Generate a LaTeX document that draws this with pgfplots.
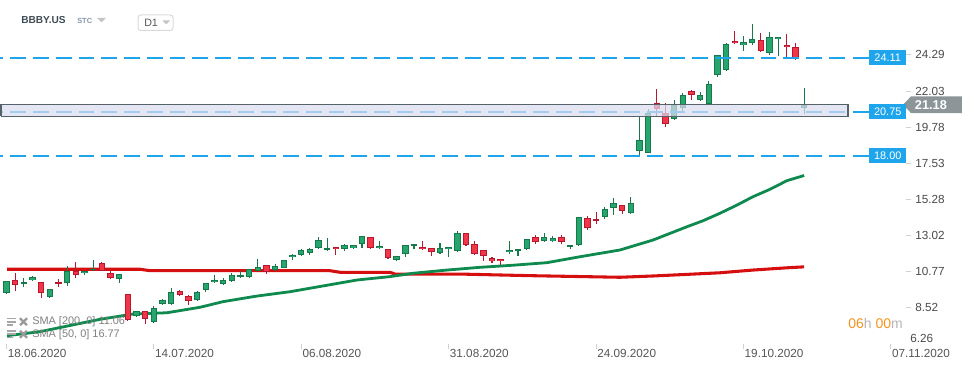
\documentclass[border=0pt]{standalone}
\usepackage{fontspec}
\setmainfont{Liberation Sans}
\usepackage{pgfplots}
\usepackage{pgfplotstable}
\pgfplotsset{compat=1.18}
\definecolor{upfill}{HTML}{26A66E}
\definecolor{upline}{HTML}{17784A}
\definecolor{dnfill}{HTML}{F2364A}
\definecolor{dnline}{HTML}{B8182E}
\definecolor{smagreen}{HTML}{0E8A4E}
\definecolor{smared}{HTML}{D50F0F}
\definecolor{lvlblue}{HTML}{1EA5EC}
\definecolor{bandfill}{HTML}{D9DCF0}
\definecolor{bandline}{HTML}{56616A}
\definecolor{axtext}{HTML}{4A4A4A}
\definecolor{datecol}{HTML}{555555}
\definecolor{tickgray}{HTML}{D0D0D0}
\definecolor{pricegray}{HTML}{8C9598}
\definecolor{clockorange}{HTML}{F7931E}
\definecolor{clockgray}{HTML}{B5B5B5}
\definecolor{legendgray}{HTML}{808080}
\definecolor{headcol}{HTML}{3F4B55}
\definecolor{stccol}{HTML}{8496A8}

\pgfplotstableread{
i o h l c
0 9.43 10.20 9.40 10.17
2 10.01 10.36 9.84 10.13
3 10.24 10.50 10.17 10.43
5 9.22 9.70 9.15 9.68
7 10.10 11.13 9.90 10.82
9 10.67 10.85 10.55 10.82
10 10.88 11.50 10.84 10.96
13 10.30 10.65 10.05 10.61
15 8.01 8.35 7.95 8.30
17 7.64 8.65 7.60 8.49
18 8.74 9.05 8.70 8.99
19 8.74 9.74 8.70 9.53
22 8.99 9.60 8.95 9.53
23 9.61 10.10 9.53 10.05
24 10.11 10.55 10.05 10.24
25 9.99 10.37 9.96 10.24
26 10.17 10.68 10.15 10.55
27 10.43 10.80 10.40 10.55
28 10.43 10.95 10.40 10.92
29 10.84 11.55 10.80 11.05
31 10.86 11.24 10.84 11.11
32 11.02 11.50 11.00 11.48
33 11.67 11.85 11.48 11.80
34 11.80 12.18 11.74 12.11
35 11.92 12.24 11.80 12.17
36 12.23 12.94 12.20 12.73
37 12.11 12.87 12.08 12.23
39 12.17 12.49 12.05 12.42
40 12.23 12.46 12.17 12.42
41 12.48 13.00 12.23 12.98
43 12.23 12.67 12.20 12.36
45 11.48 11.76 11.42 11.73
46 11.86 12.45 11.67 12.42
47 12.36 12.50 12.17 12.48
50 11.92 12.55 11.90 12.23
51 12.17 12.33 11.67 12.30
52 12.05 13.30 12.03 13.17
58 11.98 12.67 11.86 12.11
59 12.05 12.20 11.73 12.17
60 12.17 12.82 12.15 12.80
62 12.67 13.17 12.65 12.92
63 12.67 12.98 12.61 12.86
65 12.30 12.45 12.17 12.42
66 12.42 14.20 12.40 14.17
69 14.17 14.79 14.04 14.66
70 14.73 15.35 14.29 15.04
72 14.42 15.41 14.40 15.04
73 18.32 20.44 18.03 18.98
74 18.19 20.90 18.15 20.65
77 20.31 21.48 20.25 21.15
78 20.96 21.90 20.70 21.77
80 21.46 21.96 21.40 21.77
81 21.21 22.66 21.18 22.46
82 23.02 24.30 22.89 24.27
83 23.33 25.00 23.30 24.95
85 24.89 25.47 24.51 25.08
86 25.01 26.22 24.89 25.26
88 24.39 25.70 24.27 25.39
89 25.26 25.42 24.20 25.39
92 20.98 22.20 20.62 21.18
}\upc

\pgfplotstableread{
i o h l c
1 10.26 10.67 9.59 9.93
4 10.11 10.15 9.12 9.43
6 10.11 10.30 9.80 9.99
8 10.84 11.38 10.40 10.55
11 11.30 11.38 10.80 10.82
12 10.67 10.84 10.34 10.36
14 9.37 9.40 7.70 7.74
16 8.30 8.35 7.51 7.81
20 9.59 9.62 9.25 9.30
21 9.28 9.30 8.68 8.95
30 11.17 11.20 10.61 10.78
38 12.30 12.32 11.80 12.17
42 12.92 12.95 12.20 12.23
44 12.17 12.20 11.55 11.61
48 12.30 12.67 12.15 12.17
49 12.23 12.26 11.73 11.98
53 13.17 13.20 12.40 12.42
54 12.48 12.67 11.80 11.86
55 12.11 12.15 11.42 11.73
56 11.61 11.67 11.30 11.42
57 11.55 11.58 11.17 11.42
61 12.92 13.05 12.48 12.61
64 12.92 13.05 12.48 12.61
67 14.10 14.23 13.35 13.48
68 14.04 14.48 13.73 13.92
71 14.91 14.95 14.35 14.54
75 21.27 22.16 20.50 20.90
76 20.65 21.27 19.81 19.96
79 22.04 22.10 21.46 21.77
84 25.14 25.76 24.95 25.01
87 25.20 25.64 24.48 24.51
90 24.89 25.57 24.14 24.76
91 24.76 25.01 23.96 24.02
}\dnc

\pgfplotstableread{
x y
0.06 6.79
3.86 7.04
10.78 7.81
14.59 8.14
18.51 8.22
22.32 8.56
24.97 8.91
28.89 9.26
32.70 9.53
36.51 9.89
40.43 10.26
44.23 10.47
46.89 10.68
50.81 10.88
54.61 11.05
58.42 11.18
62.34 11.34
66.15 11.71
70.76 12.13
74.57 12.75
78.49 13.58
80.33 13.95
82.30 14.42
84.26 14.93
86.10 15.45
88.06 15.91
90.02 16.45
92 16.77
}\smafifty

\pgfplotstableread{
x y
0.06 10.93
15.4 10.93
16.55 10.84
37.31 10.84
38.47 10.74
44.23 10.74
44.81 10.63
52.31 10.63
60.38 10.53
70.76 10.43
74.57 10.51
78.49 10.61
82.30 10.71
86.10 10.88
90.02 11.02
92 11.08
}\smatwo

\pgfplotstableread{
x y
-0.75 24.11
97.06 24.11
}\lvlA
\pgfplotstableread{
x y
-0.75 20.75
97.06 20.75
}\lvlB
\pgfplotstableread{
x y
-0.75 18.00
97.06 18.00
}\lvlC

\pgfplotsset{
  candle/.style n args={2}{mark=none, draw=none, forget plot,
    error bars/.cd, y dir=both, y explicit, error mark=none,
    error bar style={draw=#1, line width=#2}},
  level/.style={color=lvlblue, draw=lvlblue, mark=none, line width=1.35pt, solid},
}

\begin{document}
\begin{tikzpicture}[x=0.75pt,y=0.75pt]
\useasboundingbox (0,0) rectangle (974,368);
\begin{axis}[
  at={(0pt,17.85pt)}, anchor=south west,
  scale only axis, width=679.5pt, height=258.15pt,
  xmin=-0.75, xmax=103.75, ymin=6.26, ymax=27.705,
  clip=false,
  axis line style={draw=none},
  tick align=outside,
  xtick pos=left, ytick pos=right, yticklabel pos=right,
  xtick={0,17,34,51,68,85,102},
  xticklabels={18.06.2020,14.07.2020,06.08.2020,31.08.2020,24.09.2020,19.10.2020,07.11.2020},
  ytick={8.52,10.77,13.02,15.28,17.53,19.78,22.03,24.29},
  yticklabels={8.52,10.77,13.02,15.28,17.53,19.78,22.03,24.29},
  extra y ticks={6.26}, extra y tick labels={6.26},
  extra y tick style={major tick length=0pt, yticklabel style={yshift=4pt}},
  major tick length=3.75pt,
  tick style={draw=tickgray, line width=0.75pt},
  xticklabel style={anchor=north west, inner sep=0pt, xshift=0.75pt, font=\fontsize{8.8}{10}\selectfont, text=datecol},
  yticklabel style={anchor=west, inner sep=0pt, xshift=3pt, font=\fontsize{8.8}{10}\selectfont, text=axtext},
  /pgf/number format/assume math mode=true,
]
% moving averages
\addplot[draw=smared, line width=2.3pt, line join=round, mark=none] table[x=x,y=y]{\smatwo};
\addplot[draw=smagreen, line width=2.1pt, line join=round, mark=none] table[x=x,y=y]{\smafifty};
% wicks
\addplot[candle={upline}{0.8pt}]
  table[x=i, y expr={(\thisrow{h}+\thisrow{l})/2}, y error expr={(\thisrow{h}-\thisrow{l})/2}]{\upc};
\addplot[candle={dnline}{0.8pt}]
  table[x=i, y expr={(\thisrow{h}+\thisrow{l})/2}, y error expr={(\thisrow{h}-\thisrow{l})/2}]{\dnc};
% bodies: border
\addplot[candle={upline}{4.8pt}]
  table[x=i, y expr={(\thisrow{o}+\thisrow{c})/2}, y error expr={max(abs(\thisrow{c}-\thisrow{o})/2,0.035)}]{\upc};
\addplot[candle={dnline}{4.8pt}]
  table[x=i, y expr={(\thisrow{o}+\thisrow{c})/2}, y error expr={max(abs(\thisrow{c}-\thisrow{o})/2,0.035)}]{\dnc};
% bodies: fill
\addplot[candle={upfill}{3.3pt}]
  table[x=i, y expr={(\thisrow{o}+\thisrow{c})/2}, y error expr={max(abs(\thisrow{c}-\thisrow{o})/2-0.062,0)}]{\upc};
\addplot[candle={dnfill}{3.3pt}]
  table[x=i, y expr={(\thisrow{o}+\thisrow{c})/2}, y error expr={max(abs(\thisrow{c}-\thisrow{o})/2-0.062,0)}]{\dnc};
% horizontal levels
\addplot[level, dash pattern=on 11.8pt off 5.25pt, dash phase=9.2pt] table[x=x,y=y]{\lvlA};
\addplot[level, dash pattern=on 11.8pt off 5.25pt, dash phase=9.2pt] table[x=x,y=y]{\lvlB};
\addplot[level, dash pattern=on 11.8pt off 5.25pt, dash phase=9.2pt] table[x=x,y=y]{\lvlC};
\addplot[level] coordinates {(97.64,24.11) (99.48,24.11)};
\addplot[level] coordinates {(97.64,20.75) (99.48,20.75)};
\addplot[level] coordinates {(97.64,18.00) (99.48,18.00)};
% zone
\addplot[draw=bandline, mark=none, line width=1pt, fill=bandfill, fill opacity=0.72] coordinates {(-0.63,20.45) (97.06,20.45) (97.06,21.21) (-0.63,21.21) (-0.63,20.45)};
% current price tag
\fill[pricegray] (axis cs:103.4,21.18) -- (axis cs:104.33,21.70) -- (axis cs:110.2,21.70) -- (axis cs:110.2,20.66) -- (axis cs:104.33,20.66) -- cycle;
\node[anchor=west, inner sep=0pt, text=white, font=\fontsize{9.6}{11}\selectfont\bfseries] at (axis cs:104.75,21.18) {21.18};
% level boxes
\node[anchor=west, fill=lvlblue, text=white, minimum width=27.75pt, minimum height=11pt, inner sep=0pt, font=\fontsize{8.2}{9}\selectfont] at (axis cs:99.48,24.11) {24.11};
\node[anchor=west, fill=lvlblue, text=white, minimum width=27.75pt, minimum height=11pt, inner sep=0pt, font=\fontsize{8.2}{9}\selectfont] at (axis cs:99.48,20.75) {20.75};
\node[anchor=west, fill=lvlblue, text=white, minimum width=27.75pt, minimum height=11pt, inner sep=0pt, font=\fontsize{8.2}{9}\selectfont] at (axis cs:99.48,18.00) {18.00};
\end{axis}
% header
\node[anchor=west, inner sep=0pt, text=headcol, font=\fontsize{7.6}{9}\selectfont\bfseries] at (21,348) {BBBY.US};
\node[anchor=west, inner sep=0pt, text=stccol, font=\fontsize{5.6}{7}\selectfont\bfseries] at (77,347) {STC};
\fill[clockgray!80] (97,350) -- (106,350) -- (101.5,345.5) -- cycle;
\draw[draw=black!15, line width=0.75pt, rounded corners=2pt] (138,337.5) rectangle (173,353);
\node[anchor=west, inner sep=0pt, text=datecol, font=\fontsize{8}{9}\selectfont] at (144,345.3) {D1};
\fill[clockgray!80] (162.5,347.5) -- (170,347.5) -- (166.25,343.5) -- cycle;
% indicator legend
\draw[legendgray!70, line width=1.3pt] (7,49.5) -- (16,49.5) (7,46.3) -- (16,46.3) (7,43.1) -- (13,43.1);
\draw[legendgray!80, line width=1.8pt] (20,42.8) -- (27,49.8) (20,49.8) -- (27,42.8);
\node[anchor=west, inner sep=0pt, text=legendgray, font=\fontsize{8.2}{9}\selectfont] at (32,46.3) {SMA [200, 0] 11.06};
\draw[legendgray!70, line width=1.3pt] (7,36.9) -- (16,36.9) (7,33.7) -- (16,33.7) (7,30.5) -- (13,30.5);
\draw[legendgray!80, line width=1.8pt] (20,30.2) -- (27,37.2) (20,37.2) -- (27,30.2);
\node[anchor=west, inner sep=0pt, text=legendgray, font=\fontsize{8.2}{9}\selectfont] at (32,33.7) {SMA [50, 0] 16.77};
% countdown
\node[anchor=west, inner sep=0pt, font=\fontsize{10.5}{12}\selectfont] at (848,44.7) {\textcolor{clockorange}{06}\textcolor{clockgray}{h} \textcolor{clockorange}{00}\textcolor{clockgray}{m}};
\end{tikzpicture}
\end{document}
